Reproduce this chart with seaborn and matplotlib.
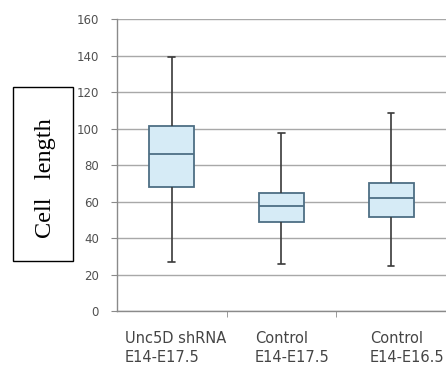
import numpy as np
import pandas as pd
import seaborn as sns
import matplotlib.pyplot as plt
from matplotlib.patches import Rectangle
from matplotlib.transforms import ScaledTranslation

# five-number summaries (min, Q1, median, Q3, max)
groups = ["Unc5D shRNA\nE14-E17.5", "Control\nE14-E17.5", "Control\nE14-E16.5"]
lows = [26.7, 25.8, 24.8]
q1s = [67.8, 48.9, 51.5]
medians = [86.0, 57.4, 61.7]
q3s = [101.5, 64.5, 70.0]
highs = [139.4, 97.3, 108.7]
yticks = [0, 20, 40, 60, 80, 100, 120, 140, 160]

rows = []
for g, lo, a, m, b, hi in zip(groups, lows, q1s, medians, q3s, highs):
    for v in (lo, a, m, b, hi):
        rows.append({"group": g, "length": v})
df = pd.DataFrame(rows)

sns.set_style("white")
fig = plt.figure(figsize=(4.46, 3.66), dpi=100)
ax = fig.add_axes([0.262, 0.150, 0.738, 0.798])

for y in yticks:
    ax.axhline(y, color="#a8a8a8", lw=1.0, zorder=0)

sns.boxplot(data=df, x="group", y="length", whis=(0, 100), width=0.41,
            color="#d6ebf6", linecolor="#4d6e84", linewidth=1.3,
            showcaps=True, ax=ax,
            boxprops=dict(facecolor="#d6ebf6", edgecolor="#4d6e84"),
            whiskerprops=dict(color="#3a3a3a", linewidth=1.2),
            capprops=dict(color="#3a3a3a", linewidth=1.2),
            medianprops=dict(color="#4d6e84", linewidth=1.3))
# shorten the caps
for line in ax.lines:
    xd = line.get_xdata()
    if len(xd) == 2 and xd[0] != xd[1] and abs(xd[1] - xd[0]) < 0.3:
        c = (xd[0] + xd[1]) / 2
        line.set_xdata([c - 0.03, c + 0.03])

ax.set_xlim(-0.5, 2.5)
ax.set_ylim(0, 160)
ax.set_yticks(yticks)
ax.set_xlabel("")
ax.set_ylabel("")
for s in ["top", "right"]:
    ax.spines[s].set_visible(False)
for s in ["left", "bottom"]:
    ax.spines[s].set_color("#8a8a8a")
    ax.spines[s].set_linewidth(1.0)

ax.tick_params(axis="y", left=True, length=4, color="#8a8a8a", labelsize=8.5,
               labelcolor="#505050", pad=9)
ax.tick_params(axis="x", bottom=False, labelsize=10.5, labelcolor="#454545", pad=11)
ax.set_xticks([0.5, 1.5], minor=True)
ax.tick_params(axis="x", which="minor", bottom=True, length=4, color="#8a8a8a")
shifts = [4, 11, 16]
for lab, dx in zip(ax.get_xticklabels(), shifts):
    lab.set_multialignment("left")
    lab.set_family("DejaVu Sans")
    lab.set_linespacing(1.3)
    lab.set_transform(lab.get_transform() + ScaledTranslation(dx / 100, 0, fig.dpi_scale_trans))

# boxed y-axis label
fig.patches.append(Rectangle((13 / 446, 1 - 261 / 366), 60 / 446, 174 / 366,
                             transform=fig.transFigure, fill=True, fc="white",
                             ec="black", lw=1.0))
fig.text(45 / 446, 1 - 178 / 366, "Cell   length", rotation=90, ha="center",
         va="center", family="Liberation Serif", fontsize=17.5, color="black")

fig.savefig("out.png", dpi=100)
